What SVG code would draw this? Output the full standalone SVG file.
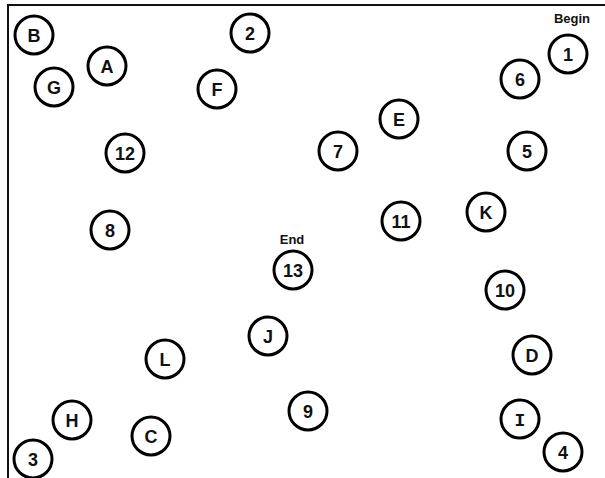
<svg xmlns="http://www.w3.org/2000/svg" width="605" height="478" viewBox="0 0 605 478">
<style>
.n circle{fill:#fff;stroke:#000;stroke-width:3}
.n text{font-family:"Liberation Sans",Arial,sans-serif;font-weight:bold;font-size:18px;text-anchor:middle;fill:#111}
.n text.m{font-family:"Liberation Mono","DejaVu Sans Mono",monospace}
.lbl{font-family:"Liberation Sans",Arial,sans-serif;font-weight:bold;font-size:13px;text-anchor:middle;fill:#111}
.frame{stroke:#111;stroke-width:2;fill:none}
</style>
<rect width="605" height="478" fill="#fff"/>
<path class="frame" d="M8,478 V5 H605"/>
<g id="connectors"></g>
<g id="n1" class="n"><circle cx="568" cy="54" r="19"/><text x="568" y="60.5">1</text></g>
<text class="lbl" x="572" y="23">Begin</text>
<g id="n2" class="n"><circle cx="250" cy="33" r="19"/><text x="250" y="39.5">2</text></g>
<g id="n3" class="n"><circle cx="33" cy="459" r="19"/><text x="33" y="465.5">3</text></g>
<g id="n4" class="n"><circle cx="563" cy="452" r="19"/><text x="563" y="458.5">4</text></g>
<g id="n5" class="n"><circle cx="527" cy="151" r="19"/><text x="527" y="157.5">5</text></g>
<g id="n6" class="n"><circle cx="520" cy="79" r="19"/><text x="520" y="85.5">6</text></g>
<g id="n7" class="n"><circle cx="338" cy="151" r="19"/><text x="338" y="157.5">7</text></g>
<g id="n8" class="n"><circle cx="110" cy="230" r="19"/><text x="110" y="236.5">8</text></g>
<g id="n9" class="n"><circle cx="308" cy="411" r="19"/><text x="308" y="417.5">9</text></g>
<g id="n10" class="n"><circle cx="505" cy="290" r="19"/><text x="505" y="296.5">10</text></g>
<g id="n11" class="n"><circle cx="401" cy="221" r="19"/><text x="401" y="227.5">11</text></g>
<g id="n12" class="n"><circle cx="125" cy="153" r="19"/><text x="125" y="159.5">12</text></g>
<g id="n13" class="n"><circle cx="293" cy="270" r="19"/><text x="293" y="276.5">13</text></g>
<text class="lbl" x="292" y="244">End</text>
<g id="nA" class="n"><circle cx="107" cy="66" r="19"/><text x="107" y="72.5">A</text></g>
<g id="nB" class="n"><circle cx="34" cy="35" r="19"/><text x="34" y="41.5">B</text></g>
<g id="nC" class="n"><circle cx="151" cy="436" r="19"/><text x="151" y="442.5">C</text></g>
<g id="nD" class="n"><circle cx="532" cy="355" r="19"/><text x="532" y="361.5">D</text></g>
<g id="nE" class="n"><circle cx="399" cy="119" r="19"/><text x="399" y="125.5">E</text></g>
<g id="nF" class="n"><circle cx="217" cy="89" r="19"/><text x="217" y="95.5">F</text></g>
<g id="nG" class="n"><circle cx="54" cy="87" r="19"/><text x="54" y="93.5">G</text></g>
<g id="nH" class="n"><circle cx="72" cy="420" r="19"/><text x="72" y="426.5">H</text></g>
<g id="nI" class="n"><circle cx="520" cy="419" r="19"/><text class="m" x="520" y="425.5">I</text></g>
<g id="nJ" class="n"><circle cx="268" cy="336" r="19"/><text x="268" y="342.5">J</text></g>
<g id="nK" class="n"><circle cx="486" cy="212" r="19"/><text x="486" y="218.5">K</text></g>
<g id="nL" class="n"><circle cx="165" cy="359" r="19"/><text x="165" y="365.5">L</text></g>
</svg>
